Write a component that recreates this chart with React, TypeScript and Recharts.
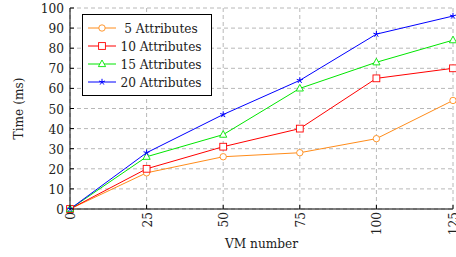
import React from "react";
import { CartesianGrid, Legend, Line, LineChart, XAxis, YAxis } from "recharts";

const vmNumbers = [0, 25, 50, 75, 100, 125];
const attr5 = [0, 18, 26, 28, 35, 54];
const attr10 = [0, 20, 31, 40, 65, 70];
const attr15 = [0, 26, 37, 60, 73, 84];
const attr20 = [0, 28, 47, 64, 87, 96];
const yTicks = [0, 10, 20, 30, 40, 50, 60, 70, 80, 90, 100];

type Shape = "circle" | "square" | "triangle" | "star";

const series: { key: string; label: string; color: string; shape: Shape; values: number[] }[] = [
  { key: "a5", label: "5 Attributes", color: "#ff8c1a", shape: "circle", values: attr5 },
  { key: "a10", label: "10 Attributes", color: "#ff0000", shape: "square", values: attr10 },
  { key: "a15", label: "15 Attributes", color: "#00e600", shape: "triangle", values: attr15 },
  { key: "a20", label: "20 Attributes", color: "#0000ff", shape: "star", values: attr20 },
];

const data = vmNumbers.map((vm, i) => {
  const row: Record<string, number> = { vm };
  series.forEach((s) => (row[s.key] = s.values[i]));
  return row;
});

const FONT = "DejaVu Serif Condensed, DejaVu Serif, serif";
const FS = 13.5;
const INWARD = 4;

function Marker({ cx, cy, shape, color }: { cx: number; cy: number; shape: Shape; color: string }) {
  if (shape === "circle") {
    return <circle cx={cx} cy={cy} r={3.2} fill="#fff" stroke={color} strokeWidth={0.9} />;
  }
  if (shape === "square") {
    return <rect x={cx - 3.4} y={cy - 3.4} width={6.8} height={6.8} fill="#fff" stroke={color} strokeWidth={0.9} />;
  }
  if (shape === "triangle") {
    return (
      <polygon
        points={`${cx},${cy - 4} ${cx - 3.6},${cy + 2.6} ${cx + 3.6},${cy + 2.6}`}
        fill="#fff"
        stroke={color}
        strokeWidth={0.9}
      />
    );
  }
  // pgfplots "star": five spokes
  const spokes = [0, 1, 2, 3, 4].map((k) => {
    const a = (-90 + k * 72) * (Math.PI / 180);
    return (
      <line key={k} x1={cx} y1={cy} x2={cx + 3.2 * Math.cos(a)} y2={cy + 3.2 * Math.sin(a)} stroke={color} strokeWidth={1} />
    );
  });
  return <g>{spokes}</g>;
}

function makeDot(shape: Shape, color: string) {
  return function Dot(props: { cx?: number; cy?: number; index?: number }) {
    const { cx = 0, cy = 0, index = 0 } = props;
    return (
      <g key={`${shape}-${index}`}>
        <Marker cx={cx} cy={cy} shape={shape} color={color} />
      </g>
    );
  };
}

/** Rotated x label below the axis, plus the inward tick mark. */
function XTick(props: { x?: number; y?: number; payload?: { value?: number } }) {
  const { x = 0, y = 0, payload } = props;
  const axisY = y - 3;
  return (
    <g>
      <line x1={x} y1={axisY} x2={x} y2={axisY - INWARD} stroke="#000" />
      <text
        x={x}
        y={y}
        transform={`rotate(-90, ${x}, ${y})`}
        textAnchor="end"
        dominantBaseline="central"
        fontSize={FS}
        fontFamily={FONT}
        fill="#222"
      >
        {payload?.value}
      </text>
    </g>
  );
}

function YTick(props: { x?: number; y?: number; payload?: { value?: number } }) {
  const { x = 0, y = 0, payload } = props;
  const axisX = x + 6;
  return (
    <g>
      <line x1={axisX} y1={y} x2={axisX + INWARD} y2={y} stroke="#000" />
      <text x={x} y={y} textAnchor="end" dominantBaseline="central" fontSize={FS} fontFamily={FONT} fill="#222">
        {payload?.value}
      </text>
    </g>
  );
}

function LegendBox() {
  return (
    <div
      style={{
        border: "1px solid #000",
        background: "#fff",
        padding: "4px 5px 4px 5px",
        fontFamily: FONT,
        fontSize: FS,
        color: "#222",
        lineHeight: "18px",
      }}
    >
      {series.map((s) => (
        <div key={s.key} style={{ display: "flex", alignItems: "center", height: 18 }}>
          <svg width={28} height={12}>
            <line x1={0} y1={6} x2={28} y2={6} stroke={s.color} strokeWidth={1} />
            <Marker cx={14} cy={6} shape={s.shape} color={s.color} />
          </svg>
          <span style={{ width: 90, textAlign: "center", whiteSpace: "nowrap" }}>{s.label}</span>
        </div>
      ))}
    </div>
  );
}

export default function App() {
  return (
    <div style={{ position: "absolute", left: 0, top: 0, background: "#fff" }}>
      <LineChart width={456} height={257} data={data} margin={{ top: 8, right: 3, bottom: 0, left: 0 }}>
        <CartesianGrid stroke="#b8b8b8" strokeDasharray="4 3" />
        <XAxis
          dataKey="vm"
          type="number"
          domain={[0, 125]}
          ticks={vmNumbers}
          interval={0}
          height={48}
          tickSize={0}
          tickMargin={3}
          tickLine={false}
          stroke="#000"
          tick={<XTick />}
          label={{ value: "VM number", position: "insideBottom", offset: 9, fontSize: FS, fontFamily: FONT, fill: "#222" }}
        />
        <YAxis
          type="number"
          domain={[0, 100]}
          ticks={yTicks}
          interval={0}
          width={70}
          tickSize={0}
          tickMargin={6}
          tickLine={false}
          stroke="#000"
          tick={<YTick />}
          label={(p: { viewBox?: { x?: number; y?: number; width?: number; height?: number } }) => {
            const vb = p.viewBox ?? {};
            const lx = (vb.x ?? 0) + 18;
            const ly = (vb.y ?? 0) + (vb.height ?? 0) / 2;
            return (
              <text
                x={lx}
                y={ly}
                transform={`rotate(-90, ${lx}, ${ly})`}
                textAnchor="middle"
                dominantBaseline="central"
                fontSize={FS}
                fontFamily={FONT}
                fill="#222"
              >
                Time (ms)
              </text>
            );
          }}
        />
        <XAxis
          xAxisId="top"
          orientation="top"
          type="number"
          dataKey="vm"
          domain={[0, 125]}
          ticks={vmNumbers}
          height={0}
          mirror
          tick={false}
          tickSize={INWARD}
          stroke="#000"
        />
        <YAxis
          yAxisId="right"
          orientation="right"
          type="number"
          domain={[0, 100]}
          ticks={yTicks}
          width={0}
          mirror
          tick={false}
          tickSize={INWARD}
          stroke="#000"
        />
        <Legend
          layout="vertical"
          align="center"
          verticalAlign="middle"
          content={<LegendBox />}
          wrapperStyle={{ left: 82, top: 14, width: "auto" }}
        />
        {series.map((s) => (
          <Line
            key={s.key}
            dataKey={s.key}
            name={s.label}
            type="linear"
            stroke={s.color}
            strokeWidth={1}
            dot={makeDot(s.shape, s.color)}
            activeDot={false}
            isAnimationActive={false}
          />
        ))}
      </LineChart>
    </div>
  );
}
